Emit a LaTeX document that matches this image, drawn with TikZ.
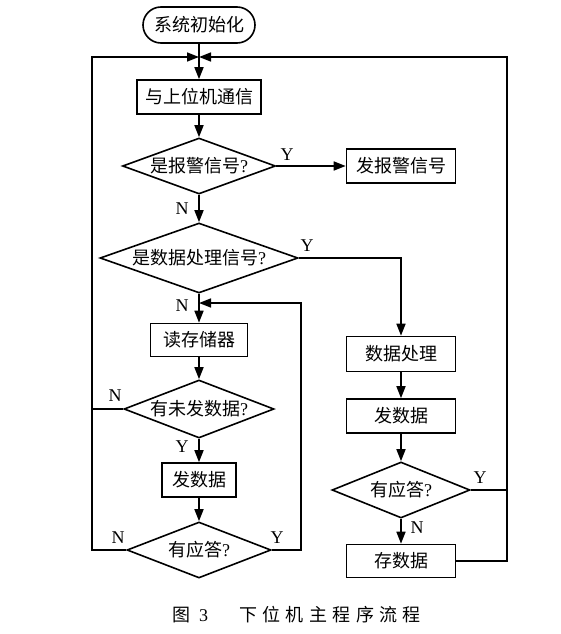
\documentclass[tikz,border=0pt]{standalone}
\usepackage{fontspec}
\setmainfont{Liberation Serif}
\newfontfamily\cjk{Noto Sans CJK SC}
\usetikzlibrary{arrows.meta,shapes.geometric}
\tikzset{
  base/.style={draw, line width=1.6pt, inner sep=0pt, font=\fontsize{18}{20}\selectfont},
  box/.style={base, rectangle, minimum height=34pt},
  dia/.style={base, diamond},
  arr/.style={line width=1.6pt, -{Triangle[length=12pt,width=9pt]}},
  ln/.style={line width=1.6pt},
  lab/.style={font=\fontsize{18}{20}\selectfont, inner sep=0pt},
}
\begin{document}
\begin{tikzpicture}[x=1pt,y=-1pt]
\useasboundingbox (0,0) rectangle (561,634);
% left column
\node[base, rounded corners=18pt, minimum width=112pt, minimum height=36pt] (start) at (199,25) {\cjk 系统初始化};
\coordinate (J) at (199,57);
\node[box, minimum width=124pt] (comm) at (199,97) {\cjk 与上位机通信};
\node[dia, minimum width=153pt, minimum height=56pt, aspect=2.73] (d1) at (199,166) {{\cjk 是报警信号}?};
\node[box, minimum width=109pt] (alarm) at (401,166) {\cjk 发报警信号};
\node[dia, minimum width=198pt, minimum height=70pt, aspect=2.83] (d2) at (199,258) {{\cjk 是数据处理信号}?};
\coordinate (M) at (199,303);
\node[box, minimum width=97pt, minimum height=33pt] (read) at (199,340) {\cjk 读存储器};
\node[dia, minimum width=150pt, minimum height=58pt, aspect=2.59] (d3) at (199,409) {{\cjk 有未发数据}?};
\node[box, minimum width=74pt] (send) at (199,480) {\cjk 发数据};
\node[dia, minimum width=144pt, minimum height=56pt, aspect=2.57] (d4) at (199,550) {{\cjk 有应答}?};
% right column
\node[box, minimum width=109pt, minimum height=35pt] (proc) at (401,354) {\cjk 数据处理};
\node[box, minimum width=109pt] (send2) at (401,416) {\cjk 发数据};
\node[dia, minimum width=138pt, minimum height=56pt, aspect=2.46] (d5) at (401,490) {{\cjk 有应答}?};
\node[box, minimum width=109pt, minimum height=33pt] (store) at (401,561) {\cjk 存数据};
% loop corner coordinates
\coordinate (LL3) at (92,409);
\coordinate (LL4) at (92,550);
\coordinate (IR) at (301,550);
\coordinate (RR5) at (507,490);
\coordinate (RR) at (507,561);
% connectors
\draw[arr] (start.south) -- (comm.north);
\draw[arr] (comm.south) -- (d1.north);
\draw[arr] (d1.east) -- (alarm.west);
\draw[arr] (d1.south) -- (d2.north);
\draw[arr] (d2.east) -| (proc.north);
\draw[arr] (d2.south) -- (read.north);
\draw[arr] (read.south) -- (d3.north);
\draw[arr] (d3.south) -- (send.north);
\draw[arr] (send.south) -- (d4.north);
\draw[ln] (d3.west) -- (LL3);
\draw[arr] (d4.west) -- (LL4) |- (J);
\draw[arr] (d4.east) -- (IR) |- (M);
\draw[arr] (proc.south) -- (send2.north);
\draw[arr] (send2.south) -- (d5.north);
\draw[arr] (d5.south) -- (store.north);
\draw[ln] (d5.east) -- (RR5);
\draw[arr] (store.east) -- (RR) |- (J);
% labels
\node[lab] (y1) at (287,155) {Y};
\node[lab] (n1) at (182,209) {N};
\node[lab] (y2) at (307,246) {Y};
\node[lab] (n2) at (182,306) {N};
\node[lab] (n3) at (115,396) {N};
\node[lab] (y3) at (182,447) {Y};
\node[lab] (n4) at (118,538) {N};
\node[lab] (y4) at (277,538) {Y};
\node[lab] (y5) at (480,478) {Y};
\node[lab] (n5) at (417,528) {N};
% caption
\node[anchor=west, inner sep=0pt, font=\fontsize{18}{20}\selectfont] (cap) at (172,615)
  {{\cjk 图}\hspace{9pt}3\hspace{31pt}{\cjk 下\hspace{5.4pt}位\hspace{5.4pt}机\hspace{5.4pt}主\hspace{5.4pt}程\hspace{5.4pt}序\hspace{5.4pt}流\hspace{5.4pt}程}};
\end{tikzpicture}
\end{document}
